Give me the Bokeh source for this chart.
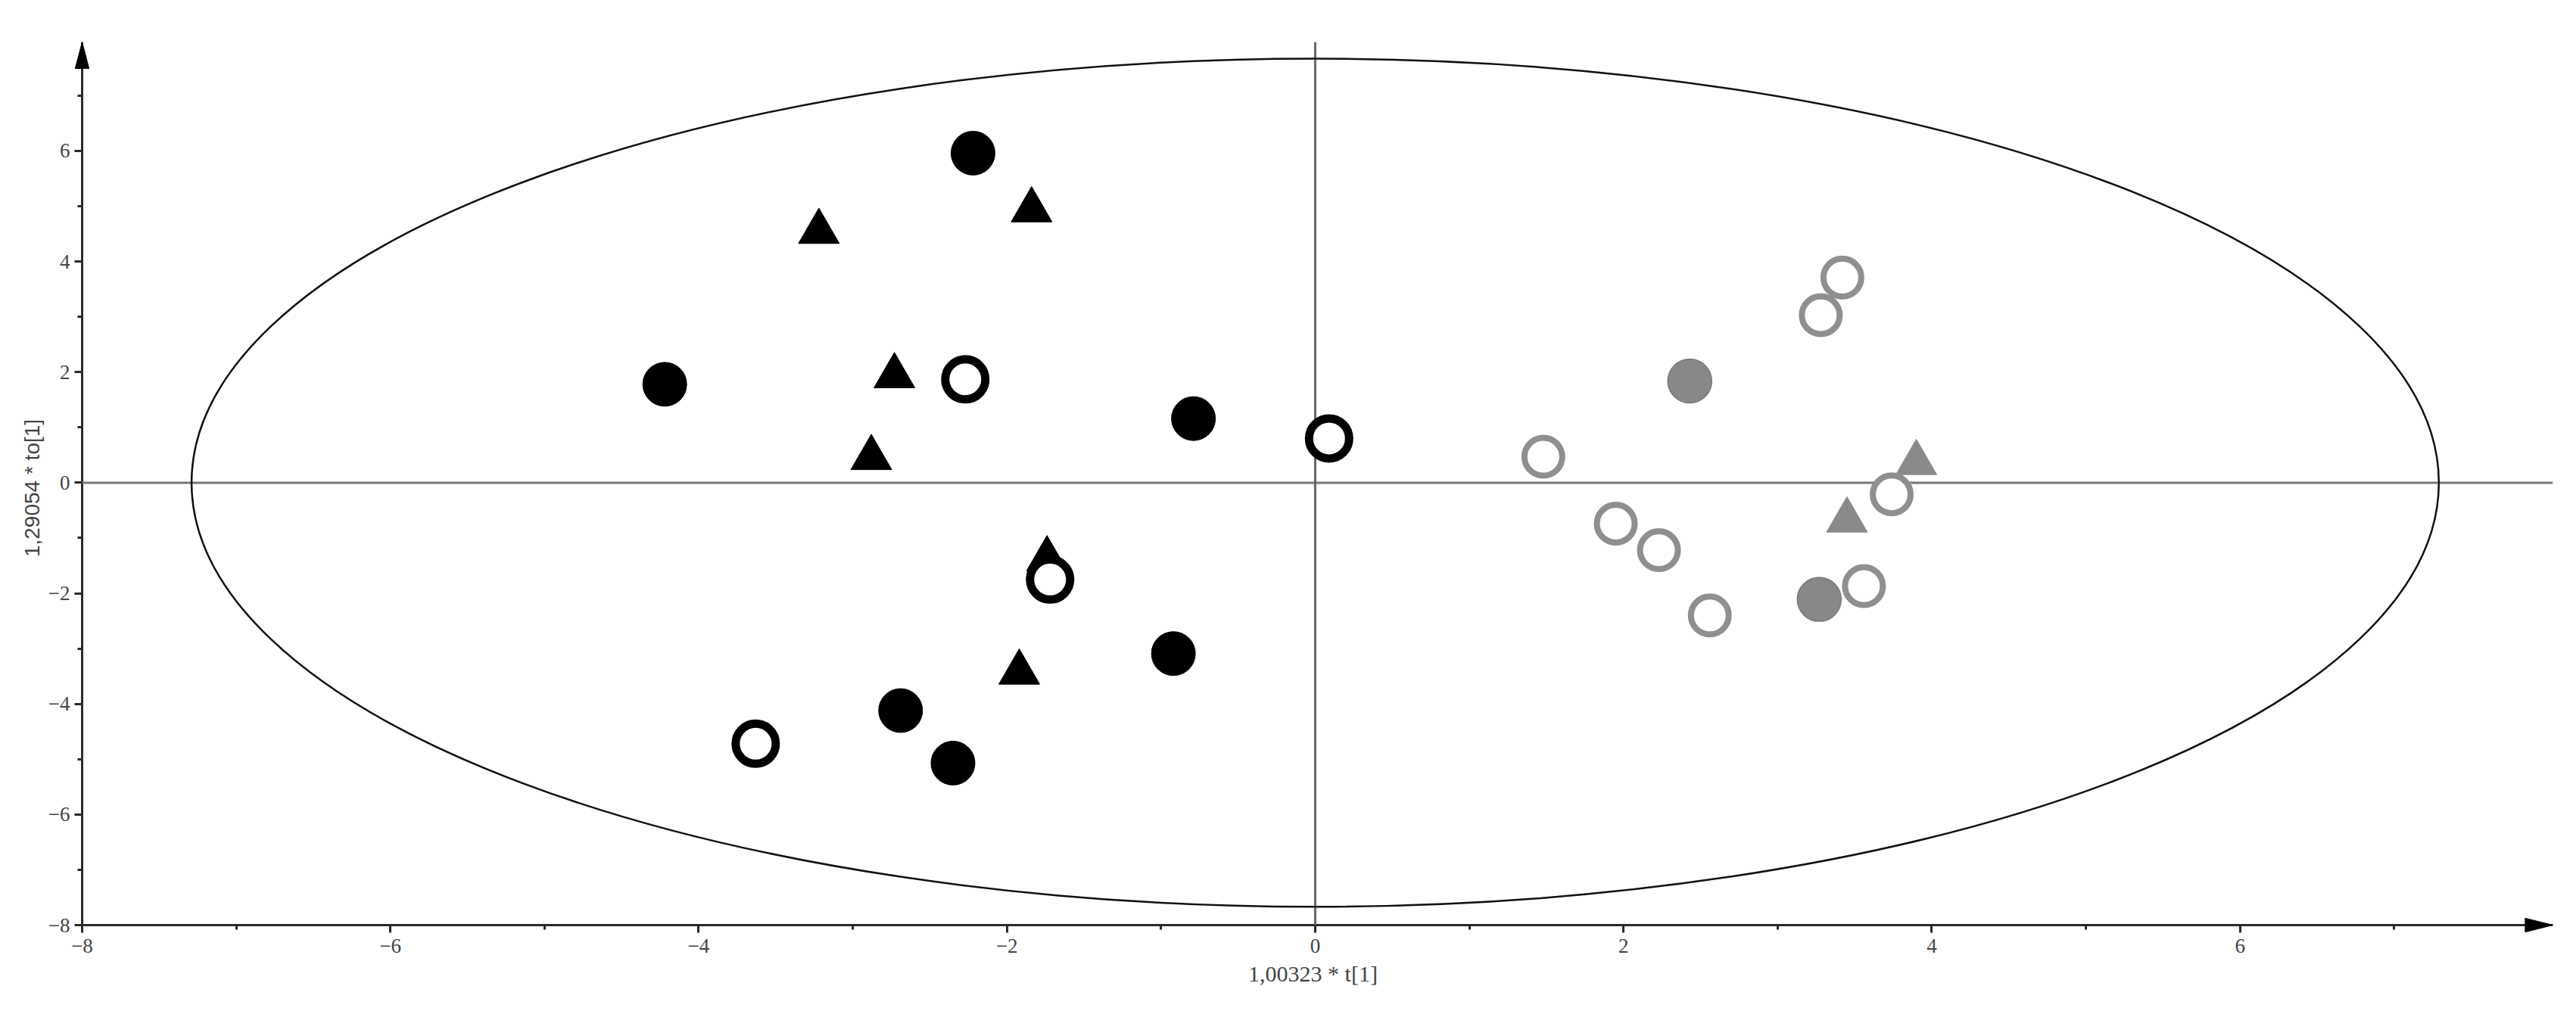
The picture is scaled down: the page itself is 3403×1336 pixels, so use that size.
from bokeh.plotting import figure
from bokeh.models import Range1d, FixedTicker
from bokeh.embed import file_html
from bokeh.resources import INLINE

# ---- data ----
black_filled_x = [-2.22, -4.22, -0.79, -0.92, -2.69, -2.35]
black_filled_y = [5.96, 1.78, 1.16, -3.09, -4.12, -5.07]
black_tri_x = [-3.22, -1.84, -2.73, -2.88, -1.74, -1.92]
black_tri_y = [4.54, 4.93, 1.93, 0.45, -1.38, -3.43]
black_open_x = [-2.27, 0.09, -1.72, -3.63]
black_open_y = [1.87, 0.80, -1.75, -4.72]
gray_open_x = [3.42, 3.28, 1.48, 1.95, 2.23, 2.56, 3.74, 3.56]
gray_open_y = [3.71, 3.03, 0.47, -0.74, -1.22, -2.40, -0.21, -1.87]
gray_filled_x = [2.43, 3.27]
gray_filled_y = [1.84, -2.11]
gray_tri_x = [3.90, 3.45]
gray_tri_y = [0.36, -0.68]

ellipse_a = 7.29
ellipse_b = 7.67

major_ticks = [-8, -6, -4, -2, 0, 2, 4, 6]
minor_ticks = [-7, -5, -3, -1, 1, 3, 5, 7]

x_label = "1,00323 * t[1]"
y_label = "1,29054 * to[1]"

AX0, AX1 = -8.0, 8.03      # x axis: origin and arrow tip
AY0, AY1 = -8.0, 7.97      # y axis: origin and arrow tip
PAD_PX = 12                # pixels between frame edge and drawn axis line
FW, FH = 3276, 1179
PAD_X = PAD_PX * (AX1 - AX0) / (FW - PAD_PX)
PAD_Y = PAD_PX * (AY1 - AY0) / (FH - PAD_PX)

p = figure(
    frame_width=FW, frame_height=FH,
    x_range=Range1d(AX0 - PAD_X, AX1), y_range=Range1d(AY0 - PAD_Y, AY1),
    output_backend="svg", toolbar_location=None,
    min_border_left=96, min_border_top=55, min_border_right=16, min_border_bottom=84,
    background_fill_color="white", border_fill_color="white",
)
p.outline_line_color = None
p.grid.visible = False

AXIS_COL = "#2a2a2a"
for ax in (p.xaxis[0], p.yaxis[0]):
    ax.ticker = FixedTicker(ticks=major_ticks, minor_ticks=minor_ticks)
    ax.axis_line_color = None
    ax.major_tick_line_color = AXIS_COL
    ax.major_tick_line_width = 3
    ax.minor_tick_line_color = AXIS_COL
    ax.minor_tick_line_width = 3
    ax.major_tick_out = -(PAD_PX - 10)
    ax.major_tick_in = PAD_PX
    ax.minor_tick_out = -(PAD_PX - 6)
    ax.minor_tick_in = PAD_PX
    ax.major_label_text_font = "Liberation Serif"
    ax.major_label_text_font_size = "27px"
    ax.major_label_text_color = "#444444"
    ax.axis_label_text_font_style = "normal"
    ax.axis_label_text_color = "#444444"

p.xaxis.major_label_standoff = 8
p.yaxis.major_label_standoff = 6
p.xaxis.axis_label = x_label
p.xaxis.axis_label_text_font = "Liberation Serif"
p.xaxis.axis_label_text_font_size = "30px"
p.xaxis.axis_label_standoff = 8
p.yaxis.axis_label = y_label
p.yaxis.axis_label_text_font = "Liberation Sans"
p.yaxis.axis_label_text_font_size = "28px"
p.yaxis.axis_label_standoff = 3

# axis lines with arrowheads (drawn inside the padded frame)
p.line([AX0, AX1], [AY0, AY0], line_color=AXIS_COL, line_width=3)
p.line([AX0, AX0], [AY0, AY1], line_color=AXIS_COL, line_width=3)
ah_len_x, ah_half_x = 0.18, 0.125
ah_len_y, ah_half_y = 0.48, 0.045
p.patch([AX1, AX1 - ah_len_x, AX1 - ah_len_x], [AY0, AY0 + ah_half_x, AY0 - ah_half_x],
        fill_color="black", line_color="black", line_width=1)
p.patch([AX0, AX0 - ah_half_y, AX0 + ah_half_y], [AY1, AY1 - ah_len_y, AY1 - ah_len_y],
        fill_color="black", line_color="black", line_width=1)

# zero lines
p.line([AX0, AX1], [0, 0], line_color="#777777", line_width=3)
p.line([0, 0], [AY0, AY1], line_color="#666666", line_width=3)

# Hotelling ellipse
p.ellipse(x=[0], y=[0], width=[2 * ellipse_a], height=[2 * ellipse_b],
          fill_color=None, line_color="#111111", line_width=2.5)

# gray group
p.scatter(gray_tri_x, gray_tri_y, marker="triangle", size=54,
          fill_color="#8a8a8a", line_color="#8a8a8a", line_width=1)
p.scatter(gray_open_x, gray_open_y, marker="circle", size=50,
          fill_color="white", line_color="#8f8f8f", line_width=8)
p.scatter(gray_filled_x, gray_filled_y, marker="circle", size=58,
          fill_color="#888888", line_color="#7a7a7a", line_width=1.5)

# black group
p.scatter(black_tri_x, black_tri_y, marker="triangle", size=54,
          fill_color="black", line_color="black", line_width=1)
p.scatter(black_open_x, black_open_y, marker="circle", size=53,
          fill_color="white", line_color="black", line_width=11)
p.scatter(black_filled_x, black_filled_y, marker="circle", size=58,
          fill_color="black", line_color="black", line_width=1)

open("out.html", "w").write(file_html(p, INLINE))
